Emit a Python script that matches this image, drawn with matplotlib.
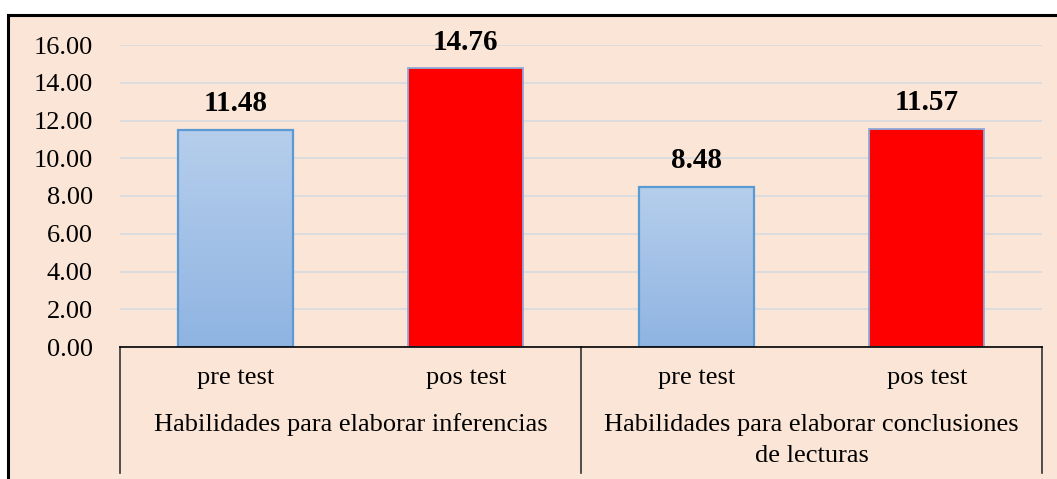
import numpy as np
import matplotlib
matplotlib.use('Agg')
import matplotlib.pyplot as plt
from matplotlib.patches import Rectangle
from matplotlib.lines import Line2D
from matplotlib.colors import LinearSegmentedColormap

# Data
groups = ['Habilidades para elaborar inferencias',
          'Habilidades para elaborar conclusiones\nde lecturas']
tests = ['pre test', 'pos test', 'pre test', 'pos test']
values = [11.48, 14.76, 8.48, 11.57]
yticks = [0, 2, 4, 6, 8, 10, 12, 14, 16]

plt.rcParams['font.family'] = ['Liberation Serif', 'DejaVu Serif']

W, H = 1057, 479
fig = plt.figure(figsize=(W / 100, H / 100), dpi=100)
fig.patch.set_facecolor('white')

# Peach background box with black top/left border
x0, ytop = 8 / W, 1 - 15 / H
fig.patches.append(Rectangle((x0, 0), 1 - x0, ytop, transform=fig.transFigure,
                             facecolor='#FBE5D6', edgecolor='none', zorder=-2))
fig.lines.append(Line2D([x0, 1], [ytop, ytop], transform=fig.transFigure,
                        color='black', lw=2.2, zorder=-1))
fig.lines.append(Line2D([x0, x0], [0, ytop], transform=fig.transFigure,
                        color='black', lw=2.2, zorder=-1))

left, right = 120 / W, 1042 / W
bottom, top = 1 - 347 / H, 1 - 45 / H
ax = fig.add_axes([left, bottom, right - left, top - bottom])
ax.set_facecolor('none')

x = np.arange(len(values))
colors = ['#A9C4E8', '#FF0000', '#A9C4E8', '#FF0000']
edges = ['#5B9BD5', '#8FAADC', '#5B9BD5', '#8FAADC']
bars = ax.bar(x, values, width=0.5, color=colors, edgecolor=edges,
              linewidth=1.3, zorder=3)

# gradient fill for the blue bars
cmap = LinearSegmentedColormap.from_list('bl', ['#8FB4E2', '#B6CEEC'])
grad = np.linspace(0, 1, 256).reshape(-1, 1)
for i in (0, 2):
    b = bars[i]
    im = ax.imshow(grad, cmap=cmap, origin='lower', aspect='auto',
                   extent=[b.get_x(), b.get_x() + b.get_width(), 0, b.get_height()],
                   zorder=3.5)
    im.set_clip_path(b)
    ax.add_patch(Rectangle((b.get_x(), 0), b.get_width(), b.get_height(),
                           facecolor='none', edgecolor='#5B9BD5', lw=1.6, zorder=4))

for xi, v in zip(x, values):
    ax.annotate(f'{v:.2f}', (xi, v), xytext=(0, 19), textcoords='offset points',
                ha='center', va='center', fontsize=21, fontweight='bold', zorder=5)

ax.set_xlim(-0.5, len(values) - 0.5)
ax.set_ylim(0, 16)
ax.set_yticks(yticks)
ax.set_yticklabels([f'{t:.2f}' for t in yticks], fontsize=19)
ax.tick_params(axis='y', length=0, pad=19.5)
ax.set_xticks([])
ax.yaxis.grid(True, color='#D9DCE0', lw=1.3, zorder=0)
ax.set_axisbelow(True)
for s in ['top', 'right', 'left']:
    ax.spines[s].set_visible(False)
ax.spines['bottom'].set_color('black')
ax.spines['bottom'].set_linewidth(1.2)
ax.spines['bottom'].set_zorder(6)

# category axis boxes
trans = ax.get_xaxis_transform()
for sx in (-0.5, 1.5, 3.5):
    ax.add_line(Line2D([sx, sx], [0, -0.417], transform=trans, color='#333333',
                       lw=1.2, clip_on=False))
for xi, t in zip(x, tests):
    ax.text(xi, -0.103, t, transform=trans, ha='center', va='center', fontsize=19)
for gx, g in zip([0.5, 2.5], groups):
    for k, line in enumerate(g.split('\n')):
        ax.text(gx, -0.258 - 0.104 * k, line, transform=trans, ha='center',
                va='center', fontsize=19)

fig.savefig('out.png', dpi=100, facecolor=fig.get_facecolor())
